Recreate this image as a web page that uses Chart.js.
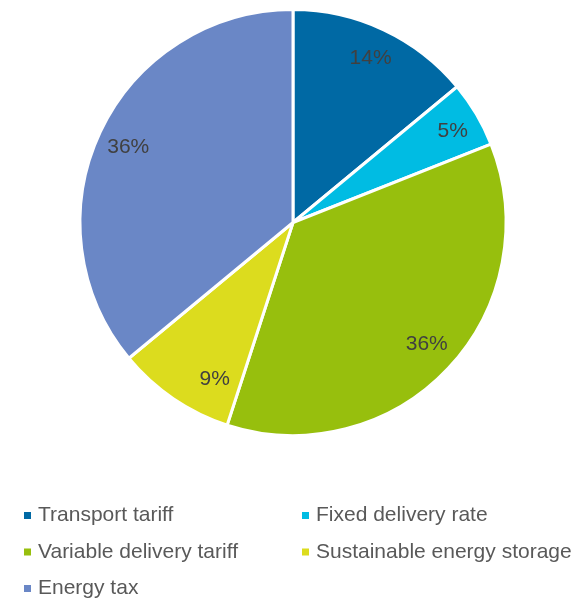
<!DOCTYPE html>
<html>
<head>
<meta charset="utf-8">
<script src="https://cdn.jsdelivr.net/npm/chart.js@4/dist/chart.umd.min.js"></script>
<style>
  html, body { margin: 0; padding: 0; background: #fff; }
  #wrap { width: 583px; height: 599px; position: relative; }
</style>
</head>
<body>
<div id="wrap"><canvas id="costChart"></canvas></div>
<script>
// Cost breakdown data
const categories = ["Transport tariff", "Fixed delivery rate", "Variable delivery tariff", "Sustainable energy storage", "Energy tax"]
const shares = [14, 5, 36, 9, 36]
const sliceColors = ["#0069A4", "#00BCE3", "#97BF0D", "#DCDC1E", "#6A87C6"]

const FONT = "Liberation Sans, Arial, sans-serif"

// percentage labels inside the slices
const sliceLabels = {
  id: "sliceLabels",
  afterDatasetsDraw(chart, args, opts) {
    const ctx = chart.ctx
    const meta = chart.getDatasetMeta(0)
    const nudge = opts.nudge || {}
    ctx.save()
    ctx.font = "21px " + FONT
    ctx.fillStyle = "#404040"
    ctx.textAlign = "center"
    ctx.textBaseline = "middle"
    meta.data.forEach((arc, i) => {
      const p = arc.getProps(["x", "y", "startAngle", "endAngle", "outerRadius"], true)
      const mid = (p.startAngle + p.endAngle) / 2
      const r = p.outerRadius * 0.855
      const [nx, ny] = nudge[i] || [0, 0]
      ctx.fillText(shares[i] + "%", p.x + Math.cos(mid) * r + nx, p.y + Math.sin(mid) * r + ny)
    })
    ctx.restore()
  }
}

// two-column legend under the pie
const gridLegend = {
  id: "gridLegend",
  afterDraw(chart) {
    const ctx = chart.ctx
    const colX = [24, 302]
    const rowY = [515.5, 552, 588.5]
    ctx.save()
    ctx.font = "21px " + FONT
    ctx.textBaseline = "middle"
    categories.forEach((name, i) => {
      const x = colX[i % 2]
      const y = rowY[Math.floor(i / 2)]
      ctx.fillStyle = sliceColors[i]
      ctx.fillRect(x, y - 3.5, 7, 7)
      ctx.fillStyle = "#595959"
      ctx.fillText(name, x + 14, y)
    })
    ctx.restore()
  }
}

new Chart(document.getElementById("costChart"), {
  type: "pie",
  data: {
    labels: categories,
    datasets: [{
      data: shares,
      backgroundColor: sliceColors,
      borderColor: "#ffffff",
      borderWidth: 3,
    }],
  },
  options: {
    responsive: true,
    maintainAspectRatio: false,
    animation: false,
    layout: { padding: { top: 8, bottom: 162, left: 3, right: 0 } },
    plugins: {
      legend: { display: false },
      tooltip: { enabled: false },
      sliceLabels: { nudge: { 1: [3, 1], 2: [1, -3], 3: [24, 6], 4: [0, 2] } },
    },
  },
  plugins: [sliceLabels, gridLegend],
})
</script>
</body>
</html>
